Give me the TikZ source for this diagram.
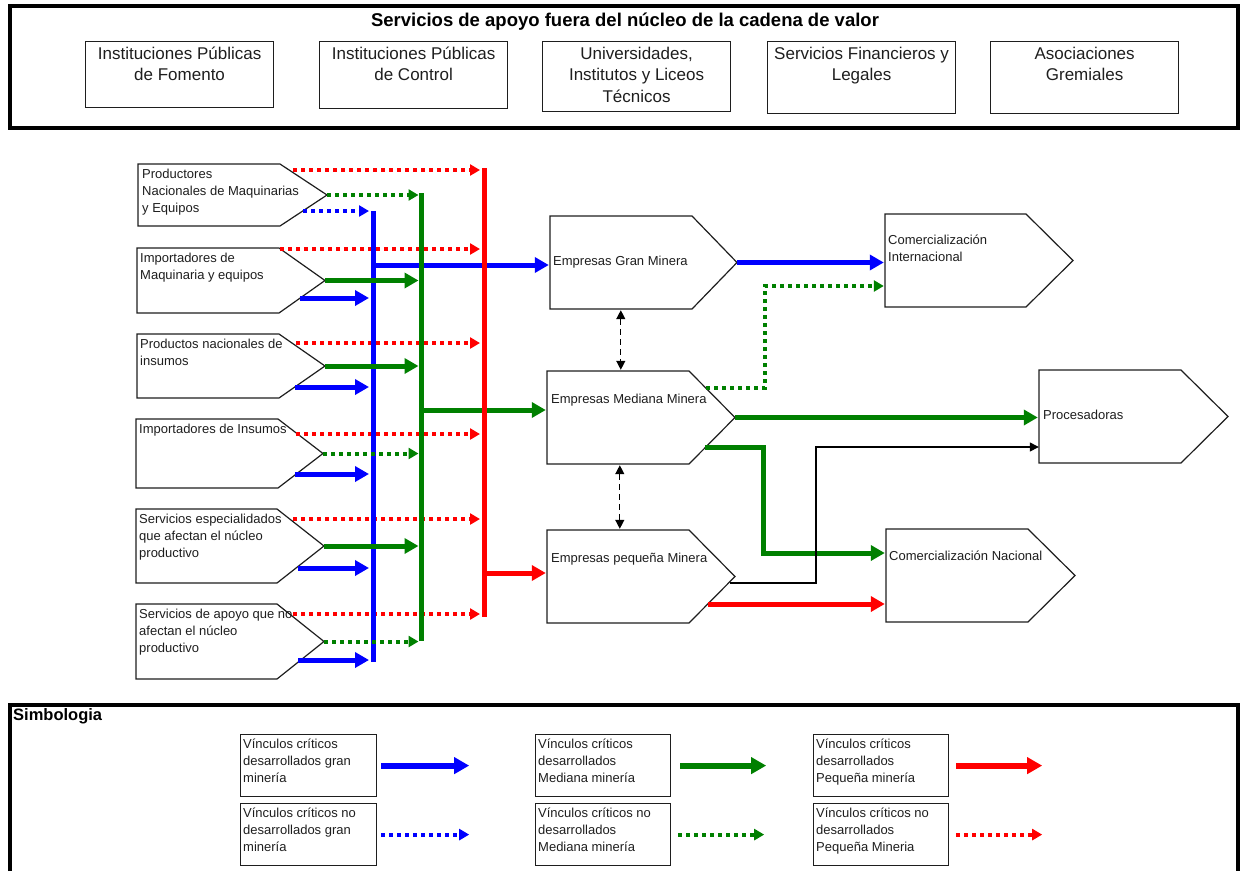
\documentclass[tikz,border=0pt]{standalone}
\usepackage{fontspec}
\setmainfont{Liberation Sans}
\usetikzlibrary{arrows.meta,fit,calc}
\definecolor{cB}{RGB}{0,0,255}
\definecolor{cG}{RGB}{0,128,0}
\definecolor{cR}{RGB}{255,0,0}
\definecolor{ink}{RGB}{30,30,30}
\newcommand{\fs}{\rule{0pt}{12pt}}
\newcommand{\ft}{\rule{0pt}{16pt}}
\newcommand{\pent}[6]{%
  \draw[pentline] (#2,#3) -- (#4,#3) -- (#5,{(#3+#6)/2}) -- (#4,#6) -- (#2,#6) -- cycle;
  \node[fit={(#2,#3) (#5,#6)}, inner sep=0pt] (#1) {};
}
\begin{document}
\begin{tikzpicture}[x=1pt,y=-1pt,
  pentline/.style={draw=ink, line width=1.2pt, fill=white},
  box/.style={draw=ink, line width=1.2pt, inner sep=0pt},
  bigbox/.style={draw=black, line width=4pt},
  stxt/.style={font=\fontsize{13}{17}\selectfont, align=left, inner sep=0pt, anchor=north west, text=ink},
  mtxt/.style={font=\fontsize{13}{17}\selectfont, inner sep=0pt, anchor=base west, text=ink},
  ttxt/.style={font=\fontsize{17}{21.5}\selectfont, align=center, inner sep=0pt, anchor=north, text=ink},
  sarr/.style={line width=5pt, -{Triangle[length=14pt,width=15pt]}, shorten >=1pt},
  darr/.style={line width=4pt, dash pattern=on 4pt off 4pt, -{Triangle[length=10pt,width=11pt]}, shorten >=1pt},
  tobus/.style={shorten >=2.5pt},
  bus/.style={line width=5pt},
  thinarr/.style={draw=black, line width=1.3pt, -{Triangle[length=9pt,width=9pt]}},
  dbl/.style={draw=black, line width=1.3pt, dash pattern=on 6pt off 4pt, {Triangle[length=9pt,width=9pt]}-{Triangle[length=9pt,width=9pt]}, shorten >=1pt, shorten <=1pt},
  lsarr/.style={line width=6pt, -{Triangle[length=15pt,width=16pt]}},
  ldarr/.style={line width=4pt, dash pattern=on 4pt off 4pt, -{Triangle[length=10pt,width=11pt]}}
]
\useasboundingbox (0,0) rectangle (1243,871);

% ---------- top support box ----------
\draw[bigbox] (10,6) rectangle (1238,128);
\node[font=\bfseries\fontsize{18.5}{22}\selectfont, anchor=base, inner sep=0pt] (title) at (625,26) {Servicios de apoyo fuera del núcleo de la cadena de valor};
\node[box, anchor=north west, minimum width=188pt, minimum height=66pt] (t1) at (85,41) {};
\node[box, anchor=north west, minimum width=188pt, minimum height=67pt] (t2) at (319,41) {};
\node[box, anchor=north west, minimum width=188pt, minimum height=70pt] (t3) at (542,41) {};
\node[box, anchor=north west, minimum width=188pt, minimum height=72pt] (t4) at (767,41) {};
\node[box, anchor=north west, minimum width=188pt, minimum height=72pt] (t5) at (990,41) {};
\node[ttxt] (t1t) at ([yshift=-2pt]t1.north) {\ft Instituciones Públicas\\de Fomento};
\node[ttxt] (t2t) at ([yshift=-2pt]t2.north) {\ft Instituciones Públicas\\de Control};
\node[ttxt] (t3t) at ([yshift=-2pt]t3.north) {\ft Universidades,\\Institutos y Liceos\\Técnicos};
\node[ttxt] (t4t) at ([yshift=-2pt]t4.north) {\ft Servicios Financieros y\\Legales};
\node[ttxt] (t5t) at ([yshift=-2pt]t5.north) {\ft Asociaciones\\Gremiales};

% ---------- shapes ----------
\pent{s1}{138}{164}{280}{327}{226}
\pent{s2}{137}{248}{279}{325}{313}
\pent{s3}{137}{334}{279}{325}{398}
\pent{s4}{136}{419}{278}{323}{488}
\pent{s5}{136}{509}{277}{324}{583}
\pent{s6}{136}{604}{277}{324}{679}
\pent{gm}{550}{216}{692}{737}{309}
\pent{mm}{547}{371}{689}{735}{464}
\pent{pm}{547}{530}{689}{735}{623}
\pent{ci}{885}{214}{1026}{1073}{307}
\pent{pr}{1039}{370}{1181}{1228}{463}
\pent{cn}{886}{529}{1028}{1075}{622}

\node[stxt] (s1t) at (142,166.5) {\fs Productores\\Nacionales de Maquinarias\\y Equipos};
\node[stxt] (s2t) at (140,250.5) {\fs Importadores de\\Maquinaria y equipos};
\node[stxt] (s3t) at (140,336.5) {\fs Productos nacionales de\\insumos};
\node[stxt] (s4t) at (139,421.5) {\fs Importadores de Insumos};
\node[stxt] (s5t) at (139,511.5) {\fs Servicios especialidados\\que afectan el núcleo\\productivo};
\node[stxt] (s6t) at (139,606.5) {\fs Servicios de apoyo que no\\afectan el núcleo\\productivo};
\node[mtxt] (gmt) at (553,265.5) {Empresas Gran Minera};
\node[mtxt] (mmt) at (551,403.5) {Empresas Mediana Minera};
\node[mtxt] (pmt) at (551,562.5) {Empresas pequeña Minera};
\node[stxt] (cit) at (888,232.5) {\fs Comercialización\\Internacional};
\node[mtxt] (prt) at (1043,419.5) {Procesadoras};
\node[mtxt] (cnt) at (889,560.5) {Comercialización Nacional};

% ---------- buses ----------
\coordinate (bT) at (373,211); \coordinate (bB) at (373,662);
\coordinate (gT) at (421,193); \coordinate (gB) at (421,641);
\coordinate (rT) at (484,168); \coordinate (rB) at (484,617);

\draw[darr, draw=cR] (293,170) -- (481,170);
\draw[darr, draw=cR] (280,249) -- (481,249);
\draw[darr, draw=cR] (296,343) -- (481,343);
\draw[darr, draw=cR] (296,434) -- (481,434);
\draw[darr, draw=cR] (293,519) -- (481,519);
\draw[darr, draw=cR] (293,614) -- (481,614);

\draw[bus, draw=cB] (bT) -- (bB);
\draw[darr, draw=cB] (303,211) -- (370,211);
\draw[sarr, draw=cB] (300,298) -- (370,298);
\draw[sarr, draw=cB] (295,387) -- (370,387);
\draw[sarr, draw=cB] (295,474) -- (370,474);
\draw[sarr, draw=cB] (298,568) -- (370,568);
\draw[sarr, draw=cB] (298,660) -- (370,660);
\draw[sarr, draw=cB] (373,265) -- ([yshift=-2.5pt]gm.west);

\draw[bus, draw=cG] (gT) -- (gB);
\draw[darr, draw=cG, tobus] (s1.east) -- (s1.east -| gT);
\draw[sarr, draw=cG, tobus] (s2.east) -- (s2.east -| gT);
\draw[sarr, draw=cG, tobus] (s3.east) -- (s3.east -| gT);
\draw[darr, draw=cG, tobus] (s4.east) -- (s4.east -| gT);
\draw[sarr, draw=cG, tobus] (s5.east) -- (s5.east -| gT);
\draw[darr, draw=cG, tobus] (s6.east) -- (s6.east -| gT);
\draw[sarr, draw=cG] (421,410) -- ([yshift=7.5pt]mm.west);

\draw[bus, draw=cR] (rT) -- (rB);
\draw[sarr, draw=cR] (484,573) -- ([yshift=3.5pt]pm.west);

% ---------- right part ----------
\draw[dbl] ([xshift=71pt]gm.south west) -- ([xshift=74pt]mm.north west);
\draw[dbl] ([xshift=73pt]mm.south west) -- ([xshift=73pt]pm.north west);

\draw[sarr, draw=cB] (gm.east) -- (ci.west |- gm.east);
\draw[darr, draw=cG] (706,388) -- (765,388) -- (765,286) -- ([yshift=-25.5pt]ci.west);
\draw[sarr, draw=cG] (mm.east) -- (pr.west |- mm.east);
\draw[sarr, draw=cG] (705,447) -- (763,447) -- (763,553) -- ([yshift=22.5pt]cn.west);
\draw[thinarr] (730,583) -- (816,583) -- (816,447) -- ([yshift=-30.5pt]pr.west);
\draw[sarr, draw=cR] (708,604) -- ([yshift=-28.5pt]cn.west);

% ---------- legend ----------
\draw[bigbox] (10,871) -- (10,705) -- (1238,705) -- (1238,871);
\node[font=\bfseries\fontsize{16.5}{20}\selectfont, anchor=base west, inner sep=0pt] (simb) at (13,720) {Simbologia};

\node[box, anchor=north west, minimum width=136pt, minimum height=62pt] (l11) at (240,734) {};
\node[box, anchor=north west, minimum width=135pt, minimum height=62pt] (l12) at (535,734) {};
\node[box, anchor=north west, minimum width=135pt, minimum height=62pt] (l13) at (813,734) {};
\node[box, anchor=north west, minimum width=136pt, minimum height=62pt] (l21) at (240,803) {};
\node[box, anchor=north west, minimum width=135pt, minimum height=62pt] (l22) at (535,803) {};
\node[box, anchor=north west, minimum width=135pt, minimum height=62pt] (l23) at (813,803) {};

\node[stxt] at ([xshift=3pt,yshift=-2.5pt]l11.north west) {\fs Vínculos críticos\\desarrollados gran\\minería};
\node[stxt] at ([xshift=3pt,yshift=-2.5pt]l12.north west) {\fs Vínculos críticos\\desarrollados\\Mediana minería};
\node[stxt] at ([xshift=3pt,yshift=-2.5pt]l13.north west) {\fs Vínculos críticos\\desarrollados\\Pequeña minería};
\node[stxt] at ([xshift=3pt,yshift=-2.5pt]l21.north west) {\fs Vínculos críticos no\\desarrollados gran\\minería};
\node[stxt] at ([xshift=3pt,yshift=-2.5pt]l22.north west) {\fs Vínculos críticos no\\desarrollados\\Mediana minería};
\node[stxt] at ([xshift=3pt,yshift=-2.5pt]l23.north west) {\fs Vínculos críticos no\\desarrollados\\Pequeña Mineria};

\draw[lsarr, draw=cB] ([xshift=4pt]l11.east) -- ++(88,0);
\draw[lsarr, draw=cG] ([xshift=9pt]l12.east) -- ++(86,0);
\draw[lsarr, draw=cR] ([xshift=7pt]l13.east) -- ++(86,0);
\draw[ldarr, draw=cB] ([xshift=4pt]l21.east) -- ++(88,0);
\draw[ldarr, draw=cG] ([xshift=7pt]l22.east) -- ++(86,0);
\draw[ldarr, draw=cR] ([xshift=7pt]l23.east) -- ++(86,0);
\end{tikzpicture}
\end{document}
